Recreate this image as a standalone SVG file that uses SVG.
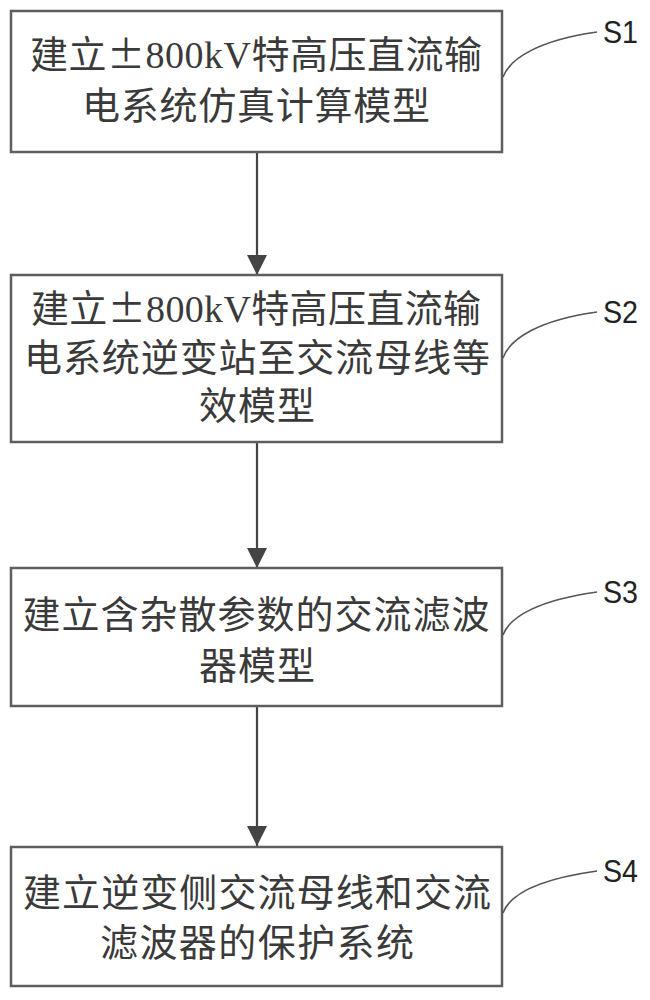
<svg xmlns="http://www.w3.org/2000/svg" width="650" height="1000" viewBox="0 0 650 1000">
<style>
.box{fill:#fff;stroke:#5e5e5e;stroke-width:2.5}
.t{font-family:"Liberation Serif","Noto Sans CJK SC",serif;font-size:38px;fill:#3a3a3a;text-anchor:middle}
.pm{font-family:"Noto Sans CJK SC",sans-serif}
.lbl{font-family:"Liberation Sans","Noto Sans",sans-serif;font-size:32px;fill:#222}
.lead{fill:none;stroke:#555;stroke-width:1.6}
.arr{stroke:#444;stroke-width:2.2;fill:none}
</style>
<defs>
<marker id="ah" viewBox="0 0 20 20" refX="20" refY="10" markerWidth="21" markerHeight="20" markerUnits="userSpaceOnUse" orient="auto">
<path d="M0,0 L20,10 L0,20 z" fill="#444"/>
</marker>
</defs>
<rect width="650" height="1000" fill="#fff"/>
<g id="connectors">
<line class="arr" x1="257" y1="152" x2="257" y2="275" marker-end="url(#ah)"/>
<line class="arr" x1="257" y1="442" x2="257" y2="568" marker-end="url(#ah)"/>
<line class="arr" x1="257" y1="706" x2="257" y2="846" marker-end="url(#ah)"/>
</g>
<g id="S1">
<rect class="box" x="11" y="11" width="491" height="141"/>
<text class="t" x="256" y="68" textLength="452" lengthAdjust="spacing">建立<tspan class="pm">±</tspan>800kV特高压直流输</text>
<text class="t" x="256" y="119" textLength="348" lengthAdjust="spacing">电系统仿真计算模型</text>
<path class="lead" d="M503,77 C510,58 540,40 597,32"/>
<text class="lbl" x="603" y="43" textLength="35" lengthAdjust="spacingAndGlyphs">S1</text>
</g>
<g id="S2">
<rect class="box" x="11" y="275" width="491" height="167"/>
<text class="t" x="256" y="322" textLength="450" lengthAdjust="spacing">建立<tspan class="pm">±</tspan>800kV特高压直流输</text>
<text class="t" x="257" y="371" textLength="466" lengthAdjust="spacing">电系统逆变站至交流母线等</text>
<text class="t" x="257" y="419" textLength="116" lengthAdjust="spacing">效模型</text>
<path class="lead" d="M503,358 C510,338 540,320 597,312"/>
<text class="lbl" x="603" y="323" textLength="35" lengthAdjust="spacingAndGlyphs">S2</text>
</g>
<g id="S3">
<rect class="box" x="11" y="568" width="491" height="138"/>
<text class="t" x="256" y="628" textLength="467" lengthAdjust="spacing">建立含杂散参数的交流滤波</text>
<text class="t" x="257" y="679" textLength="116" lengthAdjust="spacing">器模型</text>
<path class="lead" d="M503,635 C510,616 540,600 597,592"/>
<text class="lbl" x="603" y="603" textLength="35" lengthAdjust="spacingAndGlyphs">S3</text>
</g>
<g id="S4">
<rect class="box" x="11" y="847" width="491" height="139"/>
<text class="t" x="257" y="906" textLength="468" lengthAdjust="spacing">建立逆变侧交流母线和交流</text>
<text class="t" x="257" y="956" textLength="314" lengthAdjust="spacing">滤波器的保护系统</text>
<path class="lead" d="M503,913 C510,894 540,879 597,871"/>
<text class="lbl" x="603" y="882" textLength="35" lengthAdjust="spacingAndGlyphs">S4</text>
</g>
</svg>
